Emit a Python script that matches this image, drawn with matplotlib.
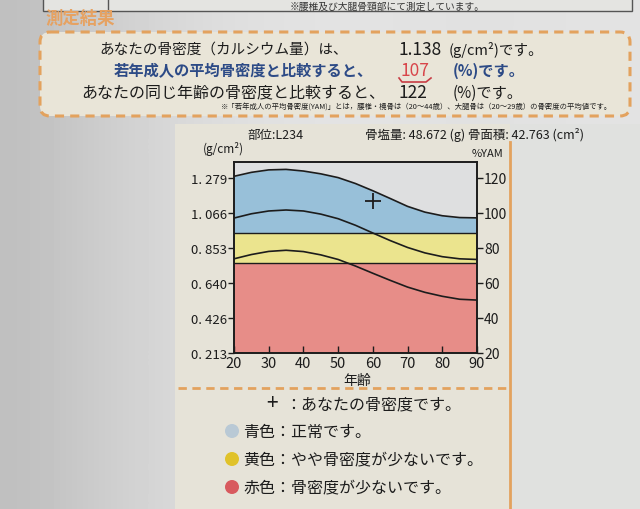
import matplotlib.pyplot as plt
import numpy as np
from matplotlib.patches import FancyBboxPatch, Rectangle, Circle

# -----------------------data-----------------------
ages = [20, 25, 30, 35, 40, 45, 50, 55, 60, 65, 70, 75, 80, 85, 90]
upper_curve  = [1.288, 1.312, 1.327, 1.330, 1.320, 1.303, 1.280, 1.244, 1.200, 1.153, 1.105, 1.070, 1.048, 1.037, 1.035]
middle_curve = [1.034, 1.060, 1.077, 1.083, 1.077, 1.058, 1.030, 0.990, 0.943, 0.897, 0.855, 0.822, 0.799, 0.786, 0.782]
lower_curve  = [0.786, 0.812, 0.831, 0.838, 0.830, 0.810, 0.782, 0.742, 0.698, 0.655, 0.614, 0.582, 0.558, 0.540, 0.535]
red_top = 0.763      # border red / yellow
yellow_top = 0.943   # border yellow / blue
my_age = 60
my_bmd = 1.138
yam_100 = 1.065      # g/cm2 that equals 100 %YAM

bmd_ticks = [0.213, 0.426, 0.640, 0.853, 1.066, 1.279]
bmd_labels = ['0. 213', '0. 426', '0. 640', '0. 853', '1. 066', '1. 279']
yam_ticks = [20, 40, 60, 80, 100, 120]
age_ticks = [20, 30, 40, 50, 60, 70, 80, 90]

# -----------------------style-----------------------
plt.rcParams['font.family'] = ['Noto Sans CJK JP', 'DejaVu Sans']
blue = '#98c0d9'
yellow = '#ebe48e'
red = '#e78d88'
sky = '#dedfe0'
orange = '#e3a25e'
navy = '#2c4a86'
ink = '#1c1c1c'

fig = plt.figure(figsize=(6.4, 5.1), dpi=100)
fig.patch.set_facecolor('#d4d4d1')

# background layer in pixel coordinates
bg = fig.add_axes([0, 0, 1, 1], zorder=0)
bg.set_xlim(0, 640)
bg.set_ylim(510, 0)
bg.axis('off')
shade = np.array([[0.75, 0.80, 0.84, 0.87, 0.885, 0.89, 0.885, 0.88, 0.885, 0.89]])
bg.imshow(shade, cmap='gray', vmin=0, vmax=1, extent=[0, 640, 510, 0], aspect='auto', interpolation='bicubic')
bg.add_patch(Rectangle((175, 125), 335, 385, facecolor='#e6e3d8', edgecolor='none'))
bg.add_patch(Rectangle((510, 125), 130, 385, facecolor='#e0e1df', edgecolor='none'))

# top cut-off box
bg.add_patch(Rectangle((43, -5), 589, 17, facecolor='#e4e4e1', edgecolor='#555555', lw=1))
bg.plot([108, 108], [0, 12], color='#555555', lw=1)
bg.text(290, 6.5, '※腰椎及び大腿骨頸部にて測定しています。', fontsize=7, ha='left', va='center', color='#333333')

bg.text(45, 19, '測定結果', fontsize=12.5, fontweight='bold', color='#e6a262', ha='left', va='center')

# header dashed box
bg.add_patch(FancyBboxPatch((40, 33), 590, 84, boxstyle='round,pad=0,rounding_size=10',
                            facecolor='#e9e5d8', edgecolor=orange, lw=2.2, linestyle=(0, (3, 2))))
bg.text(348, 50, 'あなたの骨密度（カルシウム量）は、', fontsize=10.5, ha='right', va='center', color=ink)
bg.text(398, 50, '1.138', fontsize=12.5, ha='left', va='center', color=ink)
bg.text(449, 50, '(g/cm²)です。', fontsize=10.5, ha='left', va='center', color=ink)
bg.text(373, 71, '若年成人の平均骨密度と比較すると、', fontsize=11, fontweight='bold', ha='right', va='center', color=navy)
bg.text(400, 71, '107', fontsize=12.5, ha='left', va='center', color='#d8454a')
bg.plot([399, 402, 426, 431], [79, 83, 83, 79], color='#c83c44', lw=1.2)
bg.text(453, 71, '(%)です。', fontsize=11, fontweight='bold', ha='left', va='center', color=navy)
bg.text(385, 93, 'あなたの同じ年齢の骨密度と比較すると、', fontsize=11.5, ha='right', va='center', color=ink)
bg.text(398, 93, '122', fontsize=12.5, ha='left', va='center', color=ink)
bg.text(453, 93, '(%)です。', fontsize=11, ha='left', va='center', color=ink)
bg.text(612, 108, '※「若年成人の平均骨密度(YAM)」とは，腰椎・橈骨は（20～44歳）、大腿骨は（20～29歳）の骨密度の平均値です。',
        fontsize=5.3, ha='right', va='center', color=ink)

# info line above chart
bg.text(247, 135, '部位:L234', fontsize=9, ha='left', va='center', color=ink)
bg.text(365, 135, '骨塩量: 48.672 (g) 骨面積: 42.763 (cm²)', fontsize=9, ha='left', va='center', color=ink)
bg.text(203, 149, '(g/cm²)', fontsize=8.5, ha='left', va='center', color=ink)
bg.text(487, 154, '%YAM', fontsize=8, ha='center', va='center', color=ink)
bg.text(357, 381, '年齢', fontsize=10, ha='center', va='center', color=ink)

# orange frame lines
bg.plot([510, 510], [143, 510], color=orange, lw=2)
bg.plot([178, 510], [389, 389], color=orange, lw=2, linestyle=(0, (3, 2)))

# legend
bg.text(272, 404, '+', fontsize=15, ha='center', va='center', color=ink)
bg.text(285, 405, '：あなたの骨密度です。', fontsize=11.5, ha='left', va='center', color=ink)
legend_rows = [('#b9c9d5', '青色', '：正常です。', 432),
               ('#e0c22a', '黄色', '：やや骨密度が少ないです。', 460),
               ('#d85a5e', '赤色', '：骨密度が少ないです。', 488)]
for c, name, desc, yy in legend_rows:
    bg.add_patch(Circle((232, yy), 7, facecolor=c, edgecolor='none'))
    bg.text(243, yy, name + desc, fontsize=11.5, ha='left', va='center', color=ink)

# -----------------------chart-----------------------
ax = fig.add_axes([234 / 640, 1 - 354 / 510, (477 - 234) / 640, (354 - 163) / 510], zorder=2)
ax.set_facecolor(sky)
ax.axhspan(0.0, red_top, color=red, lw=0)
ax.axhspan(red_top, yellow_top, color=yellow, lw=0)
ax.fill_between(ages, yellow_top, upper_curve, color=blue, lw=0)
ax.axhline(red_top, color=ink, lw=1)
ax.axhline(yellow_top, color=ink, lw=1)
ax.plot(ages, upper_curve, color=ink, lw=1.2)
ax.plot(ages, middle_curve, color=ink, lw=1.2)
ax.plot(ages, lower_curve, color=ink, lw=1.2)
ax.plot(my_age, my_bmd, marker='+', markersize=11, markeredgewidth=1.3, color=ink)

ax.set_xlim(20, 90)
ax.set_ylim(0.213, 1.375)
ax.set_xticks(age_ticks)
ax.set_xticklabels([str(a) for a in age_ticks], fontsize=10.5)
ax.set_yticks(bmd_ticks)
ax.set_yticklabels(bmd_labels, fontsize=9.5)
ax.tick_params(axis='x', direction='in', length=5, width=1, pad=2, colors=ink)
ax.tick_params(axis='y', direction='out', length=4, width=1, pad=1, colors=ink)
for s in ax.spines.values():
    s.set_linewidth(1.4)
    s.set_color(ink)

ax2 = ax.twinx()
ax2.set_ylim(0.213 / yam_100 * 100, 1.375 / yam_100 * 100)
ax2.set_yticks(yam_ticks)
ax2.set_yticklabels([str(v) for v in yam_ticks], fontsize=10)
ax2.tick_params(axis='y', direction='out', length=4, width=1, pad=1, colors=ink)
for s in ax2.spines.values():
    s.set_visible(False)

fig.savefig('out.png', dpi=100, facecolor=fig.get_facecolor())
